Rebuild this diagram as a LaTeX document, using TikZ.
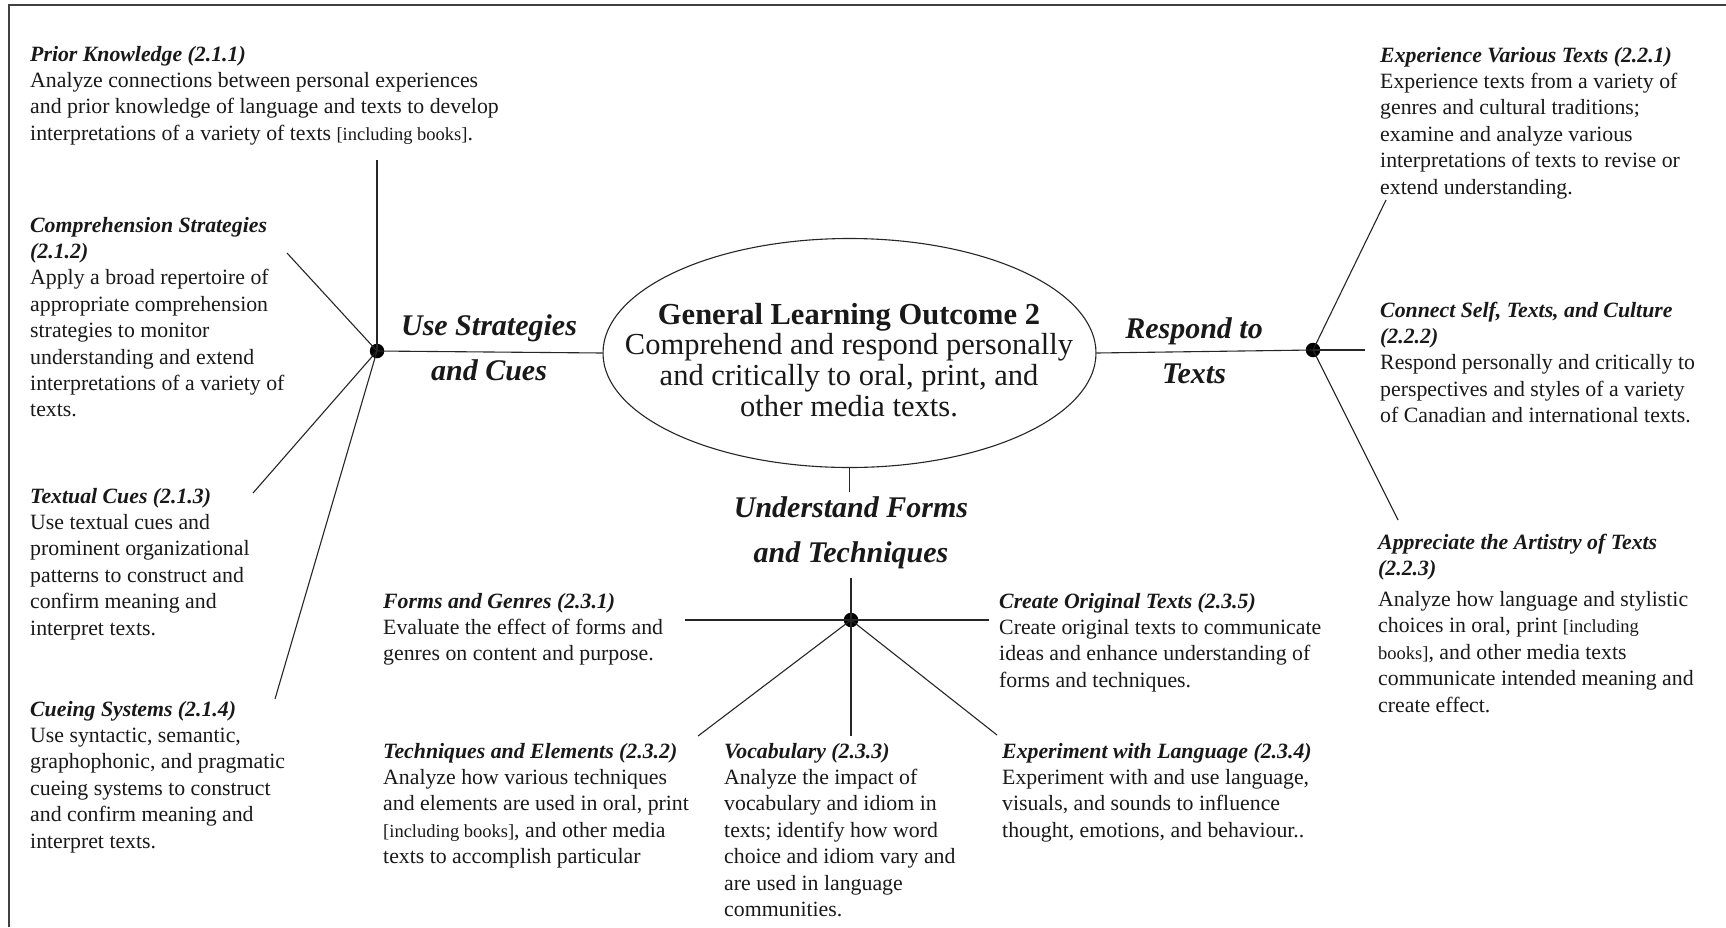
\documentclass[tikz,border=0pt]{standalone}
\usepackage{fontspec}
\setmainfont{Liberation Serif}
\usetikzlibrary{shapes.geometric}
\newcommand{\blktitle}[1]{\textbf{\textit{#1}}}
\newcommand{\smallbr}[1]{{\fontsize{18.5}{26.4}\selectfont #1}}
\begin{document}
\begin{tikzpicture}[x=1pt,y=-1pt,
  conn/.style={line width=1.1pt, draw=black!85},
  framestyle/.style={line width=1.4pt, draw=black!75},
  hubdot/.style={circle, fill=black, inner sep=0pt, minimum size=14.5pt},
  blk/.style={anchor=base west, inner sep=0pt, font=\fontsize{21.8}{26.4}\selectfont, text=black!90},
  headlbl/.style={anchor=base, inner sep=0pt, font=\fontsize{30}{45}\selectfont\bfseries\itshape, text=black!90},
  glostyle/.style={draw=black!85, line width=1.1pt, ellipse, inner sep=0pt, minimum width=493pt, minimum height=229pt},
]
\useasboundingbox (0,0) rectangle (1726,927);
\fill[white] (0,0) rectangle (1726,927);
\draw[framestyle] (9,927) -- (9,5) -- (1726,5);

% central ellipse
\node[glostyle] (glo) at (849.5,353) {};
\node[anchor=base, inner sep=0pt, font=\fontsize{30.5}{30.7}\selectfont, text=black!90] (glotext) at (849,324)
  {\begin{tabular}[t]{@{}c@{}}\textbf{General Learning Outcome 2}\\Comprehend and respond personally\\and critically to oral, print, and\\other media texts.\end{tabular}};

% headings
\node[headlbl] (usestrat) at (489,335) {\begin{tabular}[t]{@{}c@{}}Use Strategies\\and Cues\end{tabular}};
\node[headlbl] (respond) at (1194,338) {\begin{tabular}[t]{@{}c@{}}Respond to\\Texts\end{tabular}};
\node[headlbl] (understand) at (851,517) {\begin{tabular}[t]{@{}c@{}}Understand Forms\\and Techniques\end{tabular}};

% hubs
\node[hubdot] (hl) at (377,351) {};
\node[hubdot] (hr) at (1313,350) {};
\node[hubdot] (hb) at (851,620) {};

% connector free ends
\coordinate (hl-n) at (377,160);
\coordinate (hl-nw) at (287,253);
\coordinate (hl-sw) at (253,493);
\coordinate (hl-s) at (275,699);
\coordinate (hr-ne) at (1386,200);
\coordinate (hr-e) at (1365,350);
\coordinate (hr-se) at (1398,520);
\coordinate (ub-top) at (849.5,492);
\coordinate (ub-bot) at (851,578);
\coordinate (hb-w) at (685,620);
\coordinate (hb-e) at (989,620);
\coordinate (hb-sw) at (698,736);
\coordinate (hb-s) at (851,736);
\coordinate (hb-se) at (997,735);

\draw[conn] (hl.center) -- (hl-n);
\draw[conn] (hl.center) -- (hl-nw);
\draw[conn] (hl.center) -- (hl-sw);
\draw[conn] (hl.center) -- (hl-s);
\draw[conn] (hl.center) -- (glo.west);
\draw[conn] (hr.center) -- (glo.east);
\draw[conn] (hr.center) -- (hr-ne);
\draw[conn] (hr.center) -- (hr-e);
\draw[conn] (hr.center) -- (hr-se);
\draw[conn] (glo.south) -- (ub-top);
\draw[conn] (ub-bot) -- (hb.center);
\draw[conn] (hb.center) -- (hb-w);
\draw[conn] (hb.center) -- (hb-e);
\draw[conn] (hb.center) -- (hb-sw);
\draw[conn] (hb.center) -- (hb-s);
\draw[conn] (hb.center) -- (hb-se);

% text blocks
\node[blk] (priorknow) at (30,61) {\begin{tabular}[t]{@{}l@{}}
\blktitle{Prior Knowledge (2.1.1)}\\
Analyze connections between personal experiences\\
and prior knowledge of language and texts to develop\\
interpretations of a variety of texts \smallbr{[including books]}.\end{tabular}};

\node[blk] (compstrat) at (30,232) {\begin{tabular}[t]{@{}l@{}}
\blktitle{Comprehension Strategies}\\
\blktitle{(2.1.2)}\\
Apply a broad repertoire of\\
appropriate comprehension\\
strategies to monitor\\
understanding and extend\\
interpretations of a variety of\\
texts.\end{tabular}};

\node[blk] (textcues) at (30,503) {\begin{tabular}[t]{@{}l@{}}
\blktitle{Textual Cues (2.1.3)}\\
Use textual cues and\\
prominent organizational\\
patterns to construct and\\
confirm meaning and\\
interpret texts.\end{tabular}};

\node[blk] (cueing) at (30,716) {\begin{tabular}[t]{@{}l@{}}
\blktitle{Cueing Systems (2.1.4)}\\
Use syntactic, semantic,\\
graphophonic, and pragmatic\\
cueing systems to construct\\
and confirm meaning and\\
interpret texts.\end{tabular}};

\node[blk] (experience) at (1380,62) {\begin{tabular}[t]{@{}l@{}}
\blktitle{Experience Various Texts (2.2.1)}\\
Experience texts from a variety of\\
genres and cultural traditions;\\
examine and analyze various\\
interpretations of texts to revise or\\
extend understanding.\end{tabular}};

\node[blk] (connect) at (1380,317) {\begin{tabular}[t]{@{}l@{}}
\blktitle{Connect Self, Texts, and Culture}\\
\blktitle{(2.2.2)}\\
Respond personally and critically to\\
perspectives and styles of a variety\\
of Canadian and international texts.\end{tabular}};

\node[blk] (appreciate) at (1378,549) {\begin{tabular}[t]{@{}l@{}}
\blktitle{Appreciate the Artistry of Texts}\\
\blktitle{(2.2.3)}\\[4.7pt]
Analyze how language and stylistic\\
choices in oral, print \smallbr{[including}\\
\smallbr{books]}, and other media texts\\
communicate intended meaning and\\
create effect.\end{tabular}};

\node[blk] (forms) at (383,608) {\begin{tabular}[t]{@{}l@{}}
\blktitle{Forms and Genres (2.3.1)}\\
Evaluate the effect of forms and\\
genres on content and purpose.\end{tabular}};

\node[blk] (create) at (999,608) {\begin{tabular}[t]{@{}l@{}}
\blktitle{Create Original Texts (2.3.5)}\\
Create original texts to communicate\\
ideas and enhance understanding of\\
forms and techniques.\end{tabular}};

\node[blk] (techniques) at (383,758) {\begin{tabular}[t]{@{}l@{}}
\blktitle{Techniques and Elements (2.3.2)}\\
Analyze how various techniques\\
and elements are used in oral, print\\
\smallbr{[including books]}, and other media\\
texts to accomplish particular\end{tabular}};

\node[blk] (vocab) at (724,758) {\begin{tabular}[t]{@{}l@{}}
\blktitle{Vocabulary (2.3.3)}\\
Analyze the impact of\\
vocabulary and idiom in\\
texts; identify how word\\
choice and idiom vary and\\
are used in language\\
communities.\end{tabular}};

\node[blk] (experiment) at (1002,758) {\begin{tabular}[t]{@{}l@{}}
\blktitle{Experiment with Language (2.3.4)}\\
Experiment with and use language,\\
visuals, and sounds to influence\\
thought, emotions, and behaviour..\end{tabular}};
\end{tikzpicture}
\end{document}
